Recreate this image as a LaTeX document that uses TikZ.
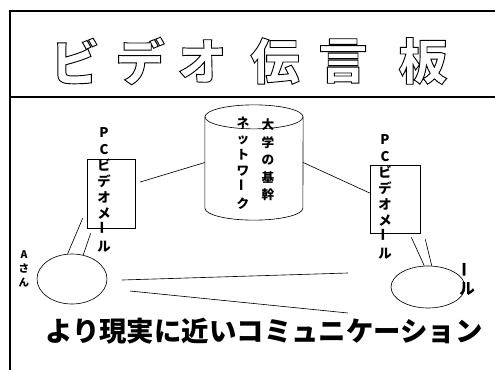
\documentclass[tikz,border=0pt]{standalone}
\usepackage{fontspec}
\newfontfamily\jpfont{Noto Sans CJK JP}
\usetikzlibrary{shapes.geometric,positioning}
% hollow (stroked) glyphs for the title
\newcommand{\hollowchar}[1]{\special{pdf:literal direct 1 Tr 1.3 w}#1\special{pdf:literal direct 0 Tr}}
\newcommand{\tatebar}{\rotatebox{90}{ー}}

\begin{document}
\begin{tikzpicture}[
    x=0.05cm, y=-0.05cm,
    frame/.style={line width=1.5pt},
    heading/.style={font=\jpfont\bfseries\fontsize{70}{70}\selectfont, inner sep=0pt},
    pcbox/.style={draw, line width=0.9pt, minimum width=2.4cm, minimum height=3.45cm, inner sep=0pt},
    site/.style={draw, ellipse, line width=0.9pt, inner sep=0pt},
    vlabel/.style={font=\jpfont\bfseries\fontsize{19}{23}\selectfont, align=center, inner sep=0pt},
    wire/.style={line width=0.9pt},
    slogan/.style={font=\jpfont\bfseries\fontsize{39}{39}\selectfont, inner sep=0pt}
  ]
    \useasboundingbox (0,0) rectangle (495,370);

    % frame and title
    \draw[frame] (495,11) -- (10,11) -- (10,370);
    \foreach \cx/\ch [count=\i] in {75/ビ,140/デ,202/オ,275/伝,343/言,423/板}
      \node[heading] (title\i) at (\cx,61) {\hollowchar{\ch}};
    \draw[line width=1.8pt] (10,97) -- (495,97);

    % backbone network
    \node[minimum width=4.9cm, minimum height=5.75cm, inner sep=0pt] (net) at (254,162.5) {};
    \draw[wire] ([yshift=-0.6cm]net.north) ellipse [x radius=2.45cm, y radius=0.6cm];
    \draw[wire] ([yshift=-0.6cm]net.north west) -- ([yshift=0.6cm]net.south west)
      arc[start angle=180, end angle=360, x radius=2.45cm, y radius=0.6cm]
      -- ([yshift=-0.6cm]net.north east);
    \node[vlabel, font=\jpfont\bfseries\fontsize{18}{25}\selectfont] (netR) at (268,160) {大\\学\\の\\基\\幹};
    \node[vlabel, font=\jpfont\bfseries\fontsize{18}{23}\selectfont] (netL) at (243,163) {ネ\\ッ\\ト\\ワ\\\tatebar\\ク};

    % terminals
    \node[pcbox] (lbox) at (111,193.5) {};
    \node[pcbox, minimum width=2.5cm, minimum height=3.4cm] (rbox) at (395,199) {};
    \node[vlabel] (lmail) at (104,190) {P\\C\\ビ\\デ\\オ\\メ\\\tatebar\\ル};
    \node[vlabel] (rmail) at (385,197) {P\\C\\ビ\\デ\\オ\\メ\\\tatebar\\ル};

    % users
    \node[site, minimum width=3.5cm, minimum height=2.5cm] (lsite) at (72,279) {};
    \node[site, minimum width=3.7cm, minimum height=2.1cm] (rsite) at (428,287) {};
    \node[vlabel, font=\jpfont\bfseries\fontsize{15}{20}\selectfont] (luser) at (24,269) {A\\さ\\ん};
    \node[vlabel, font=\jpfont\bfseries\fontsize{22}{24}\selectfont] (ruser) at (467,279) {\tatebar\\ル};

    % connections
    \draw[wire, shorten <=0.25cm] ([yshift=0.5cm]lbox.east) -- (net.west);
    \draw[wire] (net.east) -- ([yshift=0.3cm]rbox.west);
    \draw[wire] ([xshift=-0.2cm,yshift=0.5cm]lbox.south west) -- (lsite.100);
    \draw[wire] ([xshift=0.2cm,yshift=-0.25cm]lbox.south west) -- (lsite.65);
    \draw[wire] ([xshift=-0.45cm,yshift=-0.2cm]rbox.south east) -- (rsite.100);
    \draw[wire] ([xshift=0.25cm,yshift=-0.3cm]rbox.south east) -- (rsite.80);

    \coordinate (upA) at (122,280);
    \coordinate (upB) at (348,273);
    \coordinate (loA) at (130,291);
    \coordinate (loB) at (348,313);
    \draw[wire] (upA) -- (upB);
    \draw[wire] (loA) -- (loB);

    \node[slogan] (motto) at (264,331) {より現実に近いコミュニケーション};
  \end{tikzpicture}
\end{document}
